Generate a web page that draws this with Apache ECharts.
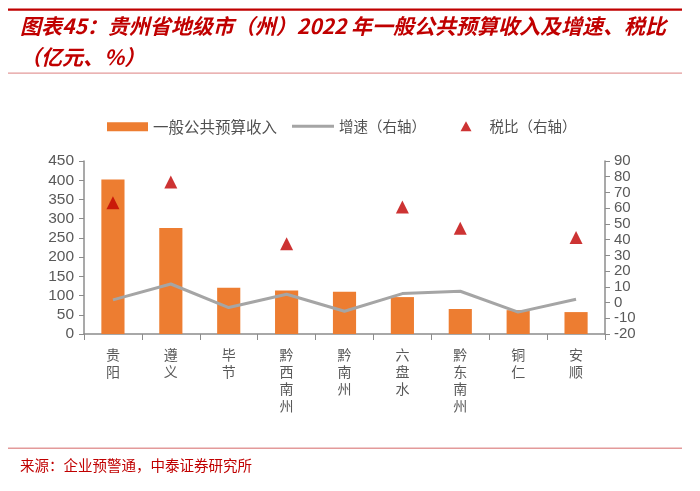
<!DOCTYPE html>
<html><head><meta charset="utf-8">
<script src="https://cdn.jsdelivr.net/npm/echarts@6/dist/echarts.min.js"></script>
<style>html,body{margin:0;padding:0;background:#fff}#c{width:700px;height:491px}</style>
</head><body><div id="c"></div>
<script>
var categories = ['贵阳','遵义','毕节','黔西南州','黔南州','六盘水','黔东南州','铜仁','安顺'];
var revenue = [402, 276, 120, 113, 110, 96, 65, 62, 57];
var growth = [1.7, 11.8, -3.2, 5.3, -5.5, 5.7, 7.2, -6.1, 2.1];
var taxRatio = [63.4, 76.7, null, 37.4, null, 60.8, 47.3, null, 41.4];
var leftTicks = {min: 0, max: 450, interval: 50};
var rightTicks = {min: -20, max: 90, interval: 10};
var seriesNames = ['一般公共预算收入', '增速（右轴）', '税比（右轴）'];
var titleLines = ['图表45：贵州省地级市（州）2022 年一般公共预算收入及增速、税比', '（亿元、%）'];
var sourceText = '来源：企业预警通，中泰证券研究所';

var chart = echarts.init(document.getElementById('c'));
var cjk = '"Noto Sans CJK SC", sans-serif';
var num = 'Arial, "Liberation Sans", sans-serif';
var axisColor = '#8c8c8c';
var labelColor = '#595959';
var legendText = {fontSize: 14.5, color: '#505050', fontFamily: cjk};
chart.setOption({
  animation: false,
  textStyle: {fontFamily: cjk},
  graphic: [
    {type: 'rect', shape: {x: 8, y: 8.5, width: 674, height: 2.2}, style: {fill: '#C00000'}},
    {type: 'text', x: 20, y: 26.5, style: {text: titleLines[0], fill: '#C00000', font: 'italic bold 21px ' + cjk, verticalAlign: 'middle'}},
    {type: 'text', x: 20, y: 57, style: {text: titleLines[1], fill: '#C00000', font: 'italic bold 21px ' + cjk, verticalAlign: 'middle'}},
    {type: 'rect', shape: {x: 8, y: 72.5, width: 674, height: 1.2}, style: {fill: '#E39A9A'}},
    {type: 'rect', shape: {x: 8, y: 447.5, width: 674, height: 1.6}, style: {fill: '#E39A9A'}},
    {type: 'text', x: 20, y: 465, style: {text: sourceText, fill: '#C00000', font: '14.5px ' + cjk, verticalAlign: 'middle'}}
  ],
  legend: [
    {top: 114, left: 102, itemWidth: 41, itemHeight: 9, textStyle: Object.assign({}, legendText, {fontSize: 15.5}),
     data: [{name: seriesNames[0], icon: 'rect'}]},
    {top: 114, left: 287, itemWidth: 42, itemHeight: 3, textStyle: legendText,
     data: [{name: seriesNames[1], icon: 'rect'}]},
    {top: 114, left: 455.5, itemWidth: 24, itemHeight: 10, textStyle: legendText,
     data: [{name: seriesNames[2], icon: 'path://M5.5,0L11,10L0,10Z M24,10L23.99,10L23.99,9.99Z', itemStyle: {color: '#C00000'}}]}
  ],
  grid: {left: 84, right: 95, top: 161, bottom: 157},
  xAxis: {
    type: 'category', data: categories,
    axisLine: {lineStyle: {color: axisColor, width: 1.5}},
    axisTick: {show: true, alignWithLabel: false, length: 6, lineStyle: {color: axisColor}},
    axisLabel: {
      color: labelColor, fontSize: 14, lineHeight: 17, margin: 12, interval: 0,
      formatter: function (v) { return v.split('').join('\n'); }
    }
  },
  yAxis: [
    {type: 'value', min: leftTicks.min, max: leftTicks.max, interval: leftTicks.interval,
     axisLine: {show: true, lineStyle: {color: axisColor, width: 1.5}},
     axisTick: {show: true, length: 5, lineStyle: {color: axisColor}},
     splitLine: {show: false},
     axisLabel: {color: labelColor, fontSize: 15.5, fontFamily: num, margin: 10}},
    {type: 'value', min: rightTicks.min, max: rightTicks.max, interval: rightTicks.interval,
     axisLine: {show: true, lineStyle: {color: axisColor, width: 1.5}},
     axisTick: {show: true, length: 5, lineStyle: {color: axisColor}},
     splitLine: {show: false},
     axisLabel: {color: labelColor, fontSize: 15, fontFamily: num, margin: 9}}
  ],
  series: [
    {name: seriesNames[0], type: 'bar', data: revenue, barWidth: '40%', itemStyle: {color: '#ED7D31'}},
    {name: seriesNames[1], type: 'line', yAxisIndex: 1, data: growth, symbol: 'none',
     lineStyle: {color: '#A5A5A5', width: 3}, itemStyle: {color: '#A5A5A5'}},
    {name: seriesNames[2], type: 'scatter', yAxisIndex: 1, data: taxRatio, symbol: 'triangle', symbolSize: 13,
     itemStyle: {color: '#C00000'}}
  ]
});
</script></body></html>
